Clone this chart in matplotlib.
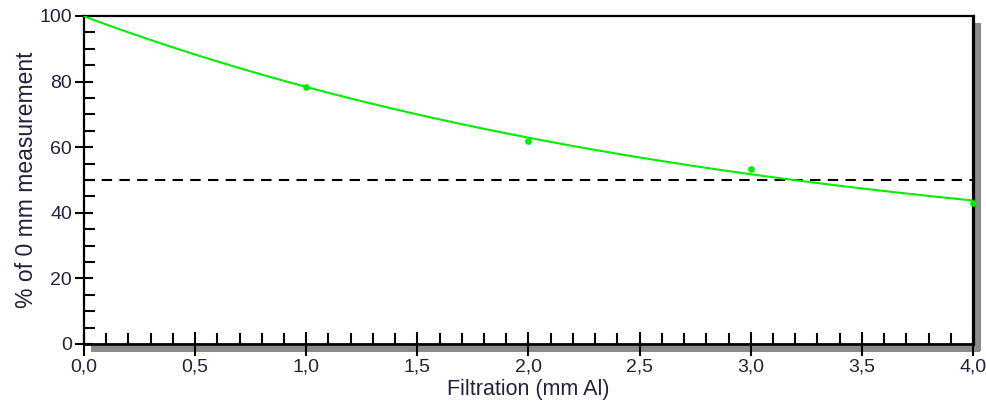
import numpy as np
import matplotlib
matplotlib.use("Agg")
import matplotlib.pyplot as plt
from matplotlib.patches import Rectangle
from matplotlib.ticker import MultipleLocator, FuncFormatter
from matplotlib.transforms import ScaledTranslation

# Measured dose relative to the unfiltered (0 mm) reading
filtration_mm = [0.0, 1.0, 2.0, 3.0, 4.0]
percent_of_zero = [100.0, 78.4, 61.9, 53.4, 43.0]
half_value_level = 50.0

x_ticks = [0.0, 0.5, 1.0, 1.5, 2.0, 2.5, 3.0, 3.5, 4.0]
y_ticks = [0, 20, 40, 60, 80, 100]

# Attenuation fit y = a*exp(-k x) + c, least squares (grid over k, linear in a, c)
xd = np.asarray(filtration_mm)
yd = np.asarray(percent_of_zero)
best = None
for k in np.linspace(0.05, 2.0, 4000):
    A = np.column_stack([np.exp(-k * xd), np.ones_like(xd)])
    sol, *_ = np.linalg.lstsq(A, yd, rcond=None)
    err = np.sum((A @ sol - yd) ** 2)
    if best is None or err < best[0]:
        best = (err, k, sol)
_, k_fit, (a_fit, c_fit) = best
xf = np.linspace(0, 4, 400)
yf = a_fit * np.exp(-k_fit * xf) + c_fit

fig = plt.figure(figsize=(9.87, 4.05), dpi=100)
ax = fig.add_axes([84 / 987, 61 / 405, 889 / 987, 328 / 405])

text_color = "#22223c"
font = "Liberation Sans"
px = 0.72  # points per pixel at 100 dpi

ax.plot(xf, yf, color="#00ee00", lw=1.5, zorder=3)
ax.plot(filtration_mm[1:], percent_of_zero[1:], "o", color="#00ee00",
        ms=4.8, mec="none", zorder=4, clip_on=False)
ax.axhline(half_value_level, color="black", lw=1.5, ls=(0, (5, 3.5)), zorder=2)

ax.set_xlim(0, 4)
ax.set_ylim(0, 100)

ax.xaxis.set_minor_locator(MultipleLocator(0.1))
ax.yaxis.set_minor_locator(MultipleLocator(5))
ax.set_xticks(x_ticks)
ax.set_yticks(y_ticks)
ax.xaxis.set_major_formatter(FuncFormatter(lambda v, p: f"{v:.1f}".replace(".", ",")))
ax.yaxis.set_major_formatter(FuncFormatter(lambda v, p: f"{v:.0f}"))

ax.tick_params(axis="x", which="major", direction="inout", length=24 * px,
               width=1.5, color="black", labelsize=14, labelcolor=text_color,
               pad=1.5)
ax.tick_params(axis="y", which="major", direction="inout", length=18 * px,
               width=1.5, color="black", labelsize=14, labelcolor=text_color,
               pad=2)
ax.tick_params(axis="both", which="minor", direction="in", length=11 * px,
               width=1.5, color="black")
for lbl in ax.get_xticklabels() + ax.get_yticklabels():
    lbl.set_fontfamily(font)

ax.spines["left"].set_linewidth(1.6)
ax.spines["bottom"].set_linewidth(2)
ax.spines["top"].set_linewidth(1.6)
ax.spines["right"].set_linewidth(2.3)

# Drop shadow along the bottom and right edges of the frame
off = ScaledTranslation(7 / 100, -7 / 100, fig.dpi_scale_trans)
shadow_kw = dict(transform=ax.transAxes + off, color="#8a8a8a",
                 clip_on=False, zorder=0, lw=0)
w = 6 / 889
h = 6 / 328
ax.add_patch(Rectangle((0, -0.004), 1.0, h, **shadow_kw))
ax.add_patch(Rectangle((1.0 - 7 / 889 + 0.002, 0), w, 1.0, **shadow_kw))

ax.set_xlabel("Filtration (mm Al)", fontsize=15.5, color=text_color,
              family=font, labelpad=3)
ax.set_ylabel("% of 0 mm measurement", fontsize=16.5, color=text_color,
              family=font, labelpad=1)

fig.savefig("out.png", dpi=100)
